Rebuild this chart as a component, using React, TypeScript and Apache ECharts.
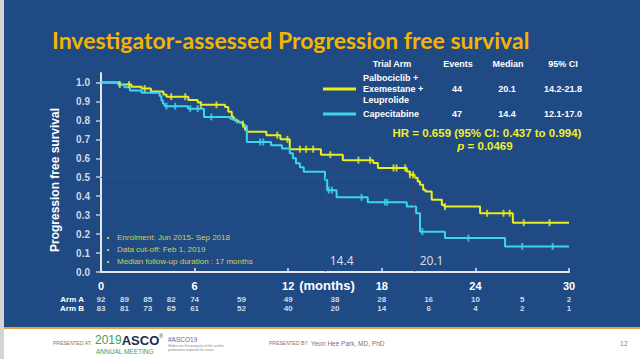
import React, { useEffect, useRef } from 'react';
import * as echarts from 'echarts';

// ---- data ----
const yTickValues = [0, 0.1, 0.2, 0.3, 0.4, 0.5, 0.6, 0.7, 0.8, 0.9, 1.0];

// Kaplan-Meier steps [month, survival]
const palboSteps: [number, number][] = [
  [0, 1.0], [1.2, 0.989], [1.95, 0.978], [2.6, 0.968], [3.2, 0.953], [4.0, 0.937], [4.2, 0.925],
  [5.6, 0.908], [6.2, 0.894], [6.4, 0.882], [7.95, 0.87], [8.16, 0.845], [8.38, 0.82], [8.48, 0.81],
  [8.59, 0.8], [8.8, 0.79], [9.02, 0.785], [9.12, 0.775], [9.23, 0.75], [9.34, 0.74], [10.6, 0.722],
  [11.5, 0.7], [12.1, 0.648], [14.1, 0.619], [15.5, 0.59], [17.45, 0.575], [17.75, 0.549], [19.6, 0.53],
  [19.8, 0.513], [20.1, 0.497], [20.3, 0.478], [20.45, 0.46], [20.65, 0.434], [20.8, 0.425], [21.2, 0.381],
  [21.85, 0.354], [22.0, 0.345], [24.3, 0.31], [26.4, 0.26], [30, 0.26],
];
const capeSteps: [number, number][] = [
  [0, 1.0], [1.1, 0.988], [1.5, 0.975], [1.85, 0.958], [2.6, 0.946], [3.76, 0.928], [3.87, 0.905],
  [3.97, 0.888], [4.08, 0.875], [5.58, 0.862], [6.6, 0.818], [8.27, 0.81], [8.4, 0.804], [8.7, 0.79],
  [9.0, 0.783], [9.1, 0.77], [9.35, 0.686], [10.9, 0.669], [11.6, 0.652], [12.1, 0.627], [12.3, 0.6],
  [12.5, 0.574], [12.75, 0.553], [13.0, 0.529], [14.36, 0.485], [14.5, 0.432], [15.1, 0.394], [17.1, 0.368],
  [19.6, 0.345], [20.2, 0.31], [20.45, 0.213], [22.05, 0.179], [25.9, 0.135], [30, 0.135],
];
const palboCensors: [number, number][] = [
  [1.2, 0.989], [1.8, 0.989], [2.8, 0.968], [4.5, 0.925], [5.4, 0.925], [6.4, 0.882], [7.4, 0.882],
  [9.1, 0.78], [11.3, 0.722], [11.95, 0.7], [12.75, 0.648], [13.15, 0.648], [13.6, 0.648], [14.7, 0.619],
  [16.5, 0.59], [17.25, 0.59], [18.75, 0.549], [18.95, 0.549], [19.5, 0.549], [19.8, 0.513], [20.0, 0.513],
  [22.05, 0.345], [24.75, 0.31], [25.8, 0.31], [26.2, 0.31], [27.1, 0.26], [28.75, 0.26],
];
const capeCensors: [number, number][] = [
  [4.2, 0.875], [4.76, 0.875], [5.72, 0.862], [6.2, 0.862], [7.07, 0.818], [10.2, 0.686], [10.4, 0.686],
  [14.6, 0.432], [14.8, 0.432], [16.7, 0.394], [18.2, 0.368], [18.35, 0.368], [20.6, 0.213], [23.55, 0.179],
  [27.0, 0.135], [28.95, 0.135],
];
const medianMonths = [14.4, 20.1];
const medianLabels = ['14.4', '20.1'];

const atRiskMonths = [0, 1.5, 3, 4.5, 6, 9, 12, 15, 18, 21, 24, 27, 30];
const armAAtRisk = [92, 89, 85, 82, 74, 59, 49, 38, 28, 16, 10, 5, 2];
const armBAtRisk = [83, 81, 73, 65, 61, 52, 40, 20, 14, 6, 4, 2, 1];

const armLabels = [['Palbociclib +', 'Exemestane +', 'Leuprolide'], ['Capecitabine']];
const armEvents = ['44', '47'];
const armMedians = ['20.1', '14.4'];
const armCI = ['14.2-21.8', '12.1-17.0'];
const notes = ['Enrolment: Jun 2015- Sep 2018', 'Data cut-off: Feb 1, 2019', 'Median follow-up duration : 17 months'];

const YELLOW = '#ECEC1E';
const CYAN = '#3DD5EE';
const BG = '#1F4A84';
const SANS = '"Liberation Sans", Arial, sans-serif';
const NARROW = '"Liberation Sans Narrow", "Liberation Sans", Arial, sans-serif';

function txt(x: number, y: number, text: string, o: any = {}) {
  return {
    type: 'text', x, y, rotation: o.rotation || 0, z: 10,
    style: {
      text, fill: o.fill || '#FFFFFF', fontSize: o.size || 9, fontWeight: o.weight || 'normal',
      fontFamily: o.family || SANS, fontStyle: o.style || 'normal',
      align: o.align || 'left', verticalAlign: 'middle', rich: o.rich,
    },
  };
}

export default function App() {
  const ref = useRef<HTMLDivElement>(null);
  useEffect(() => {
    document.body.style.margin = '0';
    const chart = echarts.init(ref.current!, null, { renderer: 'svg' });

    const graphic: any[] = [
      { type: 'rect', shape: { x: 0, y: 327, width: 640, height: 2 }, style: { fill: '#E2A43C' }, z: 1 },
      { type: 'rect', shape: { x: 0, y: 329, width: 640, height: 30 }, style: { fill: '#FFFFFF' }, z: 1 },
      { type: 'rect', shape: { x: 0, y: 0, width: 4, height: 359 }, style: { fill: '#D4D4D4' }, z: 1 },
      txt(52, 40, 'Investigator-assessed Progression free survival', { fill: '#F4B400', size: 23, weight: 'bold', family: 'Lato, sans-serif' }),
      txt(55, 180, 'Progression free survival', { size: 12, weight: 'bold', align: 'center', rotation: Math.PI / 2 }),
      txt(327, 285, '(months)', { size: 13, weight: 'bold', align: 'center' }),
      // legend table
      txt(392, 64, 'Trial Arm', { weight: 'bold', align: 'center' }),
      txt(458, 64, 'Events', { weight: 'bold', align: 'center' }),
      txt(508, 64, 'Median', { weight: 'bold', align: 'center' }),
      txt(563, 64, '95% CI', { weight: 'bold', align: 'center' }),
      { type: 'line', shape: { x1: 323, y1: 89, x2: 356, y2: 89 }, style: { stroke: YELLOW, lineWidth: 3 }, z: 10 },
      { type: 'line', shape: { x1: 323, y1: 114, x2: 356, y2: 114 }, style: { stroke: CYAN, lineWidth: 3 }, z: 10 },
      ...armLabels[0].map((s, i) => txt(363, 78 + i * 11, s, { weight: 'bold' })),
      ...armLabels[1].map((s) => txt(363, 114, s, { weight: 'bold' })),
      ...[89, 114].flatMap((y, i) => [
        txt(457, y, armEvents[i], { weight: 'bold', align: 'center' }),
        txt(507, y, armMedians[i], { weight: 'bold', align: 'center' }),
        txt(563, y, armCI[i], { weight: 'bold', align: 'center' }),
      ]),
      txt(487, 133, 'HR = 0.659 (95% CI: 0.437 to 0.994)', { fill: '#F0F028', size: 11.5, weight: 'bold', align: 'center' }),
      txt(485, 146, '{i|p} = 0.0469', { fill: '#F0F028', size: 11.5, weight: 'bold', align: 'center', rich: { i: { fontStyle: 'italic', fontWeight: 'bold', fontSize: 11.5, fill: '#F0F028', fontFamily: SANS } } }),
      // notes
      ...notes.flatMap((s, i) => [
        txt(108, 237 + i * 12, '•', { fill: '#E6E640', size: 7, align: 'center' }),
        txt(117, 237 + i * 12, s, { fill: '#CFCF58', size: 8 }),
      ]),
      // footer
      txt(53, 343, 'PRESENTED AT:', { fill: '#777777', size: 5 }),
      txt(95, 340, '{a|2019}{b|ASCO}{c|®}', { rich: {
        a: { fontSize: 12, fill: '#3E9B5C', fontFamily: SANS },
        b: { fontSize: 13, fill: '#1C2B4C', fontFamily: SANS, fontWeight: 'bold' },
        c: { fontSize: 5, fill: '#1C2B4C', fontFamily: SANS, verticalAlign: 'top' },
      } }),
      txt(96, 351, 'ANNUAL MEETING', { fill: '#3E9B5C', size: 6.5 }),
      txt(168, 339, '#ASCO19', { fill: '#6C5FB0', size: 6.5 }),
      txt(168, 346, 'Slides are the property of the author,', { fill: '#888888', size: 3.5 }),
      txt(168, 350, 'permission required for reuse.', { fill: '#888888', size: 3.5 }),
      txt(269, 343, 'PRESENTED BY:', { fill: '#777777', size: 5 }),
      txt(311, 343, 'Yeon Hee Park, MD, PhD', { fill: '#777777', size: 6.5 }),
      txt(620, 343, '12', { fill: '#888888', size: 7 }),
    ];

    const medianLine = {
      silent: true, symbol: ['none', 'none'], label: { show: false },
      lineStyle: { color: '#8A3055', type: 'dotted', width: 1 },
      data: [
        [{ coord: [0, 0.5] }, { coord: [medianMonths[1], 0.5] }],
        ...medianMonths.map((m) => [{ coord: [m, 0.5] }, { coord: [m, 0] }]),
      ],
    };

    chart.setOption({
      animation: false,
      backgroundColor: BG,
      graphic,
      grid: [
        { left: 101, right: 71, top: 73, bottom: 87 },
        { left: 101, right: 71, top: 295, height: 18 },
      ],
      xAxis: [
        {
          type: 'value', min: 0, max: 30, interval: 6, gridIndex: 0,
          axisLine: { lineStyle: { color: '#E4E6EC', width: 2 } },
          axisTick: { inside: true, length: 4, lineStyle: { color: '#E4E6EC', width: 1.5 } },
          axisLabel: { color: '#FFFFFF', fontWeight: 'bold', fontSize: 11, fontFamily: SANS, margin: 8 },
          splitLine: { show: false },
        },
        { type: 'value', min: 0, max: 30, gridIndex: 1, show: false },
      ],
      yAxis: [
        {
          type: 'value', min: 0, max: 1.05, interval: 0.1, gridIndex: 0,
          axisLine: { show: true, lineStyle: { color: '#E4E6EC', width: 2 } },
          axisTick: { show: true, length: 5, customValues: yTickValues, lineStyle: { color: '#C8CCD6', width: 1.5 } },
          axisLabel: {
            customValues: yTickValues, color: '#D4D8E2', fontWeight: 'bold', fontSize: 10, fontFamily: SANS, margin: 11,
            formatter: (v: number) => (v > 1.001 ? '' : v.toFixed(1)),
          },
          splitLine: { show: false },
        },
        {
          type: 'category', data: ['Arm A', 'Arm B'], inverse: true, gridIndex: 1,
          axisLine: { show: false }, axisTick: { show: false },
          axisLabel: { interval: 0, color: '#FFFFFF', fontWeight: 'bold', fontSize: 8, fontFamily: NARROW, margin: 17 },
        },
      ],
      series: [
        {
          type: 'line', data: palboSteps, step: 'end', symbol: 'none', z: 3,
          lineStyle: { color: YELLOW, width: 2 }, markLine: medianLine,
        },
        {
          type: 'line', data: capeSteps, step: 'end', symbol: 'none', z: 4,
          lineStyle: { color: CYAN, width: 2 },
        },
        {
          type: 'scatter', data: palboCensors, symbol: 'rect', symbolSize: [2, 7], z: 5,
          itemStyle: { color: YELLOW },
        },
        {
          type: 'scatter', data: capeCensors, symbol: 'rect', symbolSize: [2, 7], z: 5,
          itemStyle: { color: CYAN },
        },
        ...[armAAtRisk, armBAtRisk].map((arr, k) => ({
          type: 'scatter', xAxisIndex: 1, yAxisIndex: 1, symbolSize: 1,
          itemStyle: { color: 'transparent' },
          data: atRiskMonths.map((m, i) => [m, k === 0 ? 'Arm A' : 'Arm B', arr[i]]),
          label: {
            show: true, position: 'inside', formatter: (p: any) => String(p.value[2]),
            color: '#FFFFFF', fontWeight: 'bold', fontSize: 8, fontFamily: NARROW,
          },
        })),
      ],
    });

    // median text labels placed via the chart's own scale
    const labelGraphics = medianMonths.map((m, i) => {
      const [px] = chart.convertToPixel({ gridIndex: 0 }, [m, 0]) as number[];
      return txt(px + (i === 0 ? 16 : 17), 260, medianLabels[i], { fill: '#D8DCE6', size: 12, align: 'center', family: '"Noto Sans", sans-serif' });
    });
    chart.setOption({ graphic: [...graphic, ...labelGraphics] });

    return () => chart.dispose();
  }, []);

  return <div ref={ref} style={{ width: 640, height: 359, position: 'absolute', left: 0, top: 0 }} />;
}
